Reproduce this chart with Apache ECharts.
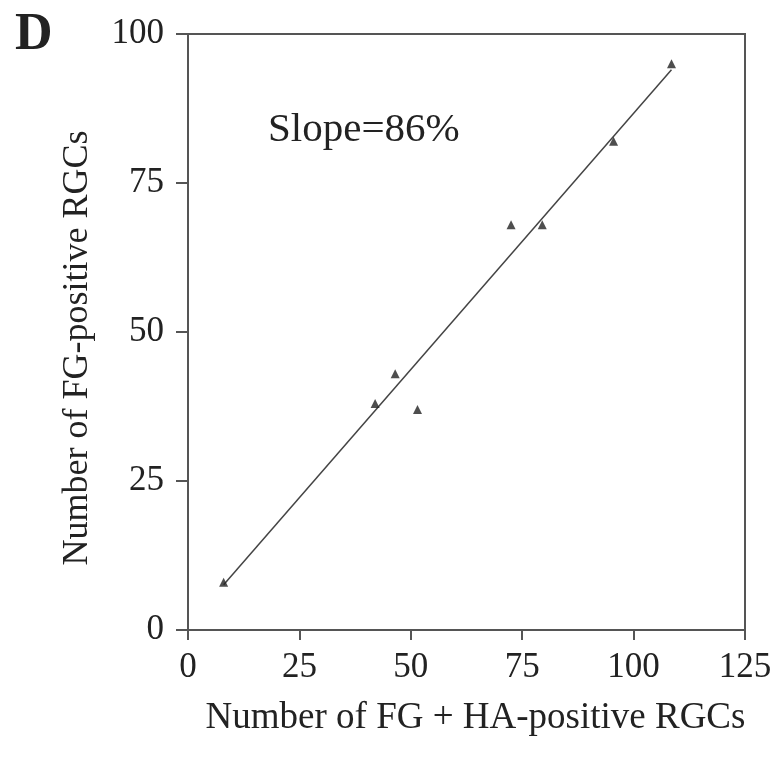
<!DOCTYPE html>
<html><head><meta charset="utf-8">
<script src="https://cdn.jsdelivr.net/npm/echarts@6/dist/echarts.min.js"></script>
<style>html,body{margin:0;padding:0;background:#fff}#c{width:780px;height:761px}</style>
</head><body><div id="c"></div>
<script>
const xValues = [8, 42, 46.5, 51.5, 72.5, 79.5, 95.5, 108.5];
const yValues = [8, 38, 43, 37, 68, 68, 82, 95];
const fitLine = [[8, 7.6], [108.5, 94.0]];
const xTicks = [0, 25, 50, 75, 100, 125];
const yTicks = [0, 25, 50, 75, 100];
const panelLabel = 'D';
const slopeText = 'Slope=86%';
const xName = 'Number of FG + HA-positive RGCs';
const yName = 'Number of FG-positive RGCs';

const font = '"Liberation Serif", "Times New Roman", serif';
const chart = echarts.init(document.getElementById('c'));
chart.setOption({
  backgroundColor: '#fff',
  animation: false,
  title: { text: panelLabel, left: 10, top: 5,
    textStyle: { fontFamily: font, fontWeight: 'bold', fontSize: 52, color: '#222' } },
  graphic: [{ type: 'text', left: 268, top: 110,
    style: { text: slopeText, font: '41px ' + font, fill: '#222' } }],
  grid: { left: 188, right: 35, top: 34, bottom: 131, show: true, borderColor: '#555', borderWidth: 2, backgroundColor: 'transparent' },
  xAxis: {
    type: 'value', min: xTicks[0], max: xTicks[xTicks.length - 1], interval: 25,
    name: xName, nameLocation: 'middle', nameGap: 70,
    nameTextStyle: { fontFamily: font, fontSize: 37, color: '#222', padding: [0, 0, 0, 18] },
    axisLine: { lineStyle: { color: '#555', width: 2 } },
    axisTick: { show: true, inside: false, length: 10, lineStyle: { color: '#555', width: 2 } },
    axisLabel: { fontFamily: font, fontSize: 35, color: '#222', margin: 20 },
    splitLine: { show: false }
  },
  yAxis: {
    type: 'value', min: yTicks[0], max: yTicks[yTicks.length - 1], interval: 25,
    name: yName, nameLocation: 'middle', nameGap: 92,
    nameTextStyle: { fontFamily: font, fontSize: 36, color: '#222', padding: [0, 32, 0, 0] },
    axisLine: { lineStyle: { color: '#555', width: 2 } },
    axisTick: { show: true, inside: false, length: 12, lineStyle: { color: '#555', width: 2 } },
    axisLabel: { fontFamily: font, fontSize: 35, color: '#222', margin: 24 },
    splitLine: { show: false }
  },
  series: [
    { type: 'line', data: fitLine, symbol: 'none', lineStyle: { color: '#444', width: 1.5 }, z: 2 },
    { type: 'scatter', data: xValues.map((x, i) => [x, yValues[i]]), symbol: 'triangle', symbolSize: 9,
      itemStyle: { color: '#222' }, z: 3 }
  ]
});
</script></body></html>
